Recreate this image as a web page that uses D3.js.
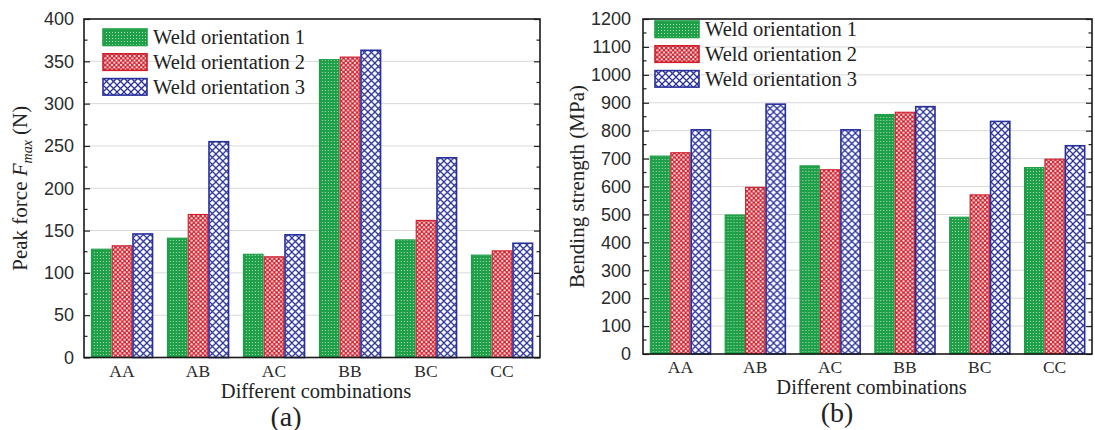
<!DOCTYPE html>
<html>
<head>
<meta charset="utf-8">
<script src="https://cdn.jsdelivr.net/npm/d3@7"></script>
<style>
    body { margin: 0; background: #fff; }
    svg { display: block; font-family: "Liberation Serif", "Times New Roman", serif; }
</style>
</head>
<body>
<svg id="chart" width="1095" height="430"></svg>
<script>
'use strict';

var categories = ['AA', 'AB', 'AC', 'BB', 'BC', 'CC'];
var seriesNames = ['Weld orientation 1', 'Weld orientation 2', 'Weld orientation 3'];

// (a) peak force, N
var forceOrient1 = [128, 141, 122, 352, 139, 121];
var forceOrient2 = [132, 169, 119, 355, 162, 126];
var forceOrient3 = [146, 255, 145, 363, 236, 135];
var forceTicks = [0, 50, 100, 150, 200, 250, 300, 350, 400];

// (b) bending strength, MPa
var bendOrient1 = [709, 498, 674, 858, 490, 668];
var bendOrient2 = [721, 597, 660, 866, 570, 698];
var bendOrient3 = [803, 895, 803, 886, 833, 746];
var bendTicks = [0, 100, 200, 300, 400, 500, 600, 700, 800, 900, 1000, 1100, 1200];

var colors = ['#1f9f48', '#cf1d2b', '#28309c'];
var fills = ['url(#pat-green)', 'url(#pat-red)', 'url(#pat-blue)'];

var svg = d3.select('#chart');

svg.append('rect')
    .attr('width', 1095)
    .attr('height', 430)
    .attr('fill', '#fff')
;

var defs = svg.append('defs');

var makePatterns = function(){
    // fine green checker
    var pg = defs.append('pattern')
        .attr('id', 'pat-green')
        .attr('patternUnits', 'userSpaceOnUse')
        .attr('width', 3)
        .attr('height', 3)
    ;
    pg.append('rect').attr('width', 3).attr('height', 3).attr('fill', colors[0]);
    pg.append('rect').attr('x', 0).attr('y', 0).attr('width', 1).attr('height', 1).attr('fill', '#a8dcb9');

    // red with white dots
    var pr = defs.append('pattern')
        .attr('id', 'pat-red')
        .attr('patternUnits', 'userSpaceOnUse')
        .attr('width', 4.5)
        .attr('height', 4.5)
    ;
    pr.append('rect').attr('width', 4.5).attr('height', 4.5).attr('fill', colors[1]);
    [[0, 0], [4.5, 0], [0, 4.5], [4.5, 4.5], [2.25, 2.25]].forEach(function(p){
        pr.append('circle').attr('cx', p[0]).attr('cy', p[1]).attr('r', 1.15).attr('fill', '#fbe3e5');
    });

    // blue cross hatch
    var pb = defs.append('pattern')
        .attr('id', 'pat-blue')
        .attr('patternUnits', 'userSpaceOnUse')
        .attr('width', 7)
        .attr('height', 7)
    ;
    pb.append('rect').attr('width', 7).attr('height', 7).attr('fill', '#fff');
    pb.append('path')
        .attr('d', 'M-1,-1L8,8M-1,8L8,-1')
        .attr('stroke', colors[2])
        .attr('stroke-width', 1.25)
    ;
};

makePatterns();

var drawPanel = function(opts){

    var x = d3.scaleBand()
        .domain(categories)
        .range([opts.left, opts.right])
        .paddingInner(0.18)
        .paddingOuter(0.09)
    ;

    var xs = d3.scaleBand()
        .domain([0, 1, 2])
        .range([0, x.bandwidth()])
    ;

    var y = d3.scaleLinear()
        .domain([0, opts.max])
        .range([opts.bottom, opts.top])
    ;

    var g = svg.append('g');

    // grid
    g.selectAll('.grid')
        .data(opts.ticks.slice(1, -1))
        .enter().append('line')
        .attr('x1', opts.left)
        .attr('x2', opts.right)
        .attr('y1', function(d) { return y(d); })
        .attr('y2', function(d) { return y(d); })
        .attr('stroke', '#d9d9d9')
        .attr('stroke-width', 1)
    ;

    // bars
    var rows = categories.map(function(c, i){
        return opts.series.map(function(s, k){
            return { cat: c, k: k, value: s[i] };
        });
    });

    var grp = g.selectAll('.grp')
        .data(rows)
        .enter().append('g')
        .attr('transform', function(d) { return 'translate(' + x(d[0].cat) + ',0)'; })
    ;

    grp.selectAll('rect')
        .data(function(d) { return d; })
        .enter().append('rect')
        .attr('x', function(d) { return xs(d.k) + 0.6; })
        .attr('y', function(d) { return y(d.value); })
        .attr('width', function(d) { return xs.bandwidth() - 1.2; })
        .attr('height', function(d) { return y(0) - y(d.value); })
        .attr('fill', function(d) { return fills[d.k]; })
        .attr('stroke', function(d) { return colors[d.k]; })
        .attr('stroke-width', function(d) { return d.k === 2 ? 1.6 : 1.1; })
    ;

    // axes, ticks inward on both sides
    var yLeft = d3.axisLeft(y).tickValues(opts.ticks).tickSize(-6).tickPadding(opts.pad).tickFormat(d3.format('d'));
    var yRight = d3.axisRight(y).tickValues(opts.ticks).tickSize(-6).tickFormat('');
    var step = opts.ticks[1] - opts.ticks[0];
    var minor = d3.range(step / 2, opts.max, step);

    var ay = g.append('g')
        .attr('transform', 'translate(' + opts.left + ',0)')
        .call(yLeft)
    ;
    ay.selectAll('text')
        .attr('fill', '#2b2b2b')
        .style('font-size', '18px')
    ;

    var ayr = g.append('g')
        .attr('transform', 'translate(' + opts.right + ',0)')
        .call(yRight)
    ;

    [opts.left, opts.right].forEach(function(px, side){
        g.selectAll('.minor' + side)
            .data(minor)
            .enter().append('line')
            .attr('x1', px)
            .attr('x2', side === 0 ? px + 3.5 : px - 3.5)
            .attr('y1', function(d) { return y(d); })
            .attr('y2', function(d) { return y(d); })
            .attr('stroke', '#222')
            .attr('stroke-width', 1.2)
        ;
    });

    [ay, ayr].forEach(function(a){
        a.select('.domain').remove();
        a.selectAll('line').attr('stroke', '#222').attr('stroke-width', 1.2);
    });

    // frame
    g.append('rect')
        .attr('x', opts.left)
        .attr('y', opts.top)
        .attr('width', opts.right - opts.left)
        .attr('height', opts.bottom - opts.top)
        .attr('fill', 'none')
        .attr('stroke', '#1a1a1a')
        .attr('stroke-width', 1.6)
    ;

    // x labels
    g.selectAll('.xlab')
        .data(categories)
        .enter().append('text')
        .attr('x', function(d) { return x(d) + x.bandwidth() / 2; })
        .attr('y', opts.bottom + 19)
        .attr('text-anchor', 'middle')
        .attr('fill', '#2b2b2b')
        .style('font-size', '17.5px')
        .text(function(d) { return d; })
    ;

    g.append('text')
        .attr('x', (opts.left + opts.right) / 2 + 4)
        .attr('y', opts.bottom + 40)
        .attr('text-anchor', 'middle')
        .attr('fill', '#222')
        .style('font-size', '20.5px')
        .text('Different combinations')
    ;

    g.append('text')
        .attr('x', opts.panelX)
        .attr('y', opts.bottom + 68)
        .attr('text-anchor', 'middle')
        .attr('fill', '#222')
        .style('font-size', '28px')
        .text(opts.panel)
    ;

    // y title
    var yt = g.append('text')
        .attr('transform', 'translate(' + opts.titleX + ',' + ((opts.top + opts.bottom) / 2) + ') rotate(-90)')
        .attr('text-anchor', 'middle')
        .attr('fill', '#222')
        .style('font-size', '21px')
    ;
    opts.title(yt);

    // legend
    var lg = g.append('g')
        .attr('transform', 'translate(' + opts.legendX + ',' + opts.legendY + ')')
    ;
    seriesNames.forEach(function(name, k){
        lg.append('rect')
            .attr('x', 0)
            .attr('y', k * 24.8)
            .attr('width', 44)
            .attr('height', 16.5)
            .attr('fill', fills[k])
            .attr('stroke', colors[k])
            .attr('stroke-width', 1.6)
        ;
        lg.append('text')
            .attr('x', 50)
            .attr('y', k * 24.8 + 15)
            .attr('fill', '#222')
            .style('font-size', '20.5px')
            .text(name)
        ;
    });
};

drawPanel({
    left: 84, right: 540, top: 19, bottom: 357.5,
    max: 400, ticks: forceTicks, pad: 10,
    series: [forceOrient1, forceOrient2, forceOrient3],
    titleX: 27, panel: '(a)', panelX: 286,
    legendX: 103, legendY: 29,
    title: function(t){
        t.append('tspan').text('Peak force ');
        t.append('tspan').style('font-style', 'italic').text('F');
        t.append('tspan').style('font-style', 'italic').style('font-size', '14px').attr('dy', 5).text('max');
        t.append('tspan').attr('dy', -5).text(' (N)');
    }
});

drawPanel({
    left: 643, right: 1092, top: 19, bottom: 354,
    max: 1200, ticks: bendTicks, pad: 12,
    series: [bendOrient1, bendOrient2, bendOrient3],
    titleX: 584, panel: '(b)', panelX: 837,
    legendX: 655, legendY: 21,
    title: function(t){
        t.text('Bending strength (MPa)');
    }
});
</script>
</body>
</html>
